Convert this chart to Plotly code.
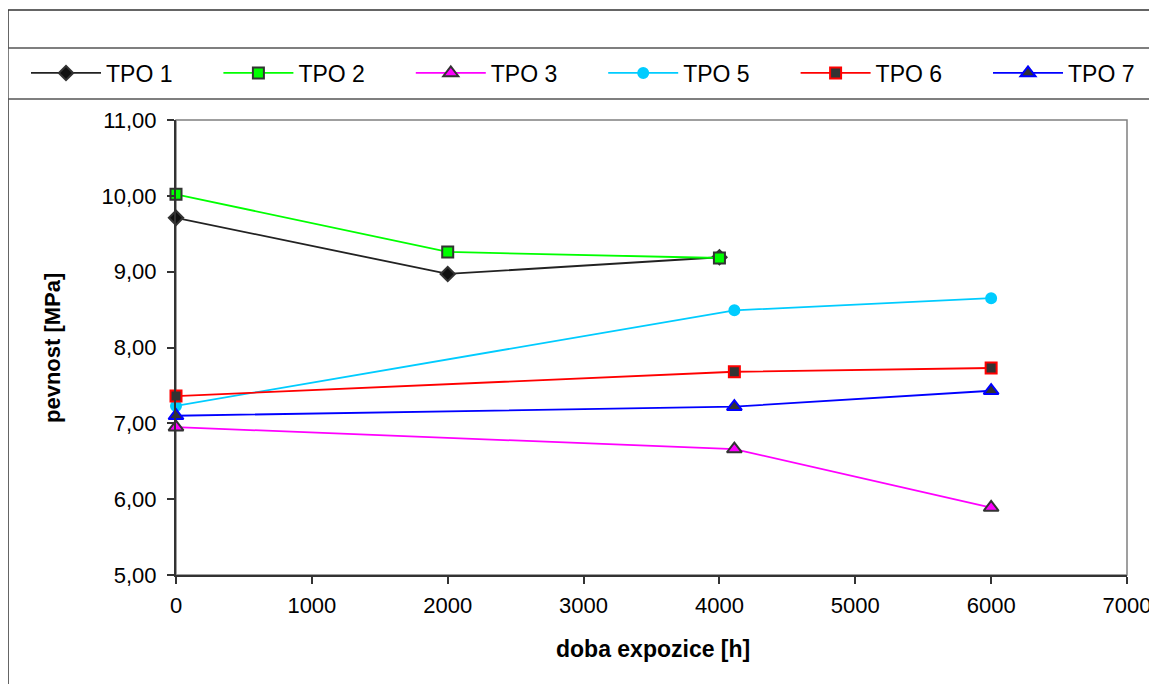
import plotly.graph_objects as go

# ---- data ----
series_names = ["TPO 1", "TPO 2", "TPO 3", "TPO 5", "TPO 6", "TPO 7"]
tpo1_x = [0, 2000, 4000]
tpo1_y = [9.71, 8.97, 9.19]
tpo2_x = [0, 2000, 4000]
tpo2_y = [10.02, 9.26, 9.18]
tpo3_x = [0, 4110, 6000]
tpo3_y = [6.95, 6.66, 5.89]
tpo5_x = [0, 4110, 6000]
tpo5_y = [7.23, 8.49, 8.65]
tpo6_x = [0, 4110, 6000]
tpo6_y = [7.36, 7.68, 7.73]
tpo7_x = [0, 4110, 6000]
tpo7_y = [7.10, 7.22, 7.43]
x_ticks = [0, 1000, 2000, 3000, 4000, 5000, 6000, 7000]
y_ticks = [5, 6, 7, 8, 9, 10, 11]

# ---- layout geometry (page has an 8px body margin) ----
OFF = 8
W, H = 1157 - OFF, 684 - OFF
L, R, T, B = 176 - OFF, 1127 - OFF, 120 - OFF, 575 - OFF


def px(x):
    return (x - OFF - L) / (R - L)


def py(y):
    return (B - (y - OFF)) / (B - T)


FONT = "Liberation Sans, Arial, sans-serif"

styles = [
    dict(line="#222222", sym="diamond", fill="#111111", border="#333333", size=11),
    dict(line="#00FF00", sym="square", fill="#00FF00", border="#333333", size=11),
    dict(line="#FF00FF", sym="triangle-up", fill="#FF00FF", border="#333333", size=13),
    dict(line="#00CCFF", sym="circle", fill="#00CCFF", border="#00CCFF", size=10),
    dict(line="#FF0000", sym="square", fill="#333333", border="#FF0000", size=11),
    dict(line="#0000FF", sym="triangle-up", fill="#333333", border="#0000FF", size=13),
]
xs = [tpo1_x, tpo2_x, tpo3_x, tpo5_x, tpo6_x, tpo7_x]
ys = [tpo1_y, tpo2_y, tpo3_y, tpo5_y, tpo6_y, tpo7_y]

fig = go.Figure()
legend_ids = ["legend"] + ["legend%d" % (i + 1) for i in range(1, len(series_names))]
for name, x, y, s, lid in zip(series_names, xs, ys, styles, legend_ids):
    fig.add_trace(go.Scatter(
        x=x, y=y, name=name, mode="lines+markers",
        line=dict(color=s["line"], width=1.8),
        marker=dict(symbol=s["sym"], size=s["size"], color=s["fill"],
                    line=dict(color=s["border"], width=2)),
        cliponaxis=False, legend=lid,
    ))

shapes = [
    # outer frame
    dict(type="rect", xref="paper", yref="paper", x0=px(8), x1=px(1175),
         y0=py(700), y1=py(10), line=dict(color="#333333", width=1.5), layer="below"),
    # legend box
    dict(type="rect", xref="paper", yref="paper", x0=px(8), x1=px(1152),
         y0=py(99), y1=py(48), line=dict(color="#555555", width=1.5),
         fillcolor="white", layer="below"),
    # plot area top/right border
    dict(type="rect", xref="paper", yref="paper", x0=0, x1=1, y0=0, y1=1,
         line=dict(color="#808080", width=1.5), layer="below"),
]

annotations = [
    dict(text="<b>doba expozice [h]</b>", xref="paper", yref="paper",
         x=px(653), y=py(649), showarrow=False, xanchor="center", yanchor="middle",
         font=dict(family=FONT, size=23, color="black")),
    dict(text="<b>pevnost [MPa]</b>", xref="paper", yref="paper",
         x=px(52), y=py(348), showarrow=False, xanchor="center", yanchor="middle",
         textangle=-90, font=dict(family=FONT, size=22, color="black")),
]

layout_legends = {}
for i, lid in enumerate(legend_ids):
    layout_legends[lid] = dict(
        orientation="h", x=px(26 + i * 192.4), y=py(73),
        xanchor="left", yanchor="middle",
        bgcolor="rgba(0,0,0,0)", borderwidth=0, itemwidth=70,
        font=dict(family=FONT, size=23, color="black"),
        itemclick=False, itemdoubleclick=False,
    )

fig.update_layout(
    width=W, height=H,
    margin=dict(l=L, r=W - R, t=T, b=H - B, autoexpand=False),
    paper_bgcolor="white", plot_bgcolor="white",
    separators=", ",
    font=dict(family=FONT, size=22, color="black"),
    showlegend=True,
    shapes=shapes,
    annotations=annotations,
    xaxis=dict(range=[0, 7000], tickvals=x_ticks, tickformat="d",
               showgrid=False, zeroline=False, showline=True, linecolor="#333333",
               linewidth=2, ticks="outside", ticklen=7, tickcolor="#333333",
               tickwidth=1.5, tickfont=dict(family=FONT, size=22, color="black"),
               ticklabelstandoff=3, fixedrange=True),
    yaxis=dict(range=[5, 11], tickvals=y_ticks, tickformat=".2f",
               showgrid=False, zeroline=False, showline=True, linecolor="#333333",
               linewidth=2, ticks="outside", ticklen=7, tickcolor="#333333",
               tickwidth=1.5, tickfont=dict(family=FONT, size=22, color="black"),
               ticklabelstandoff=6, fixedrange=True),
    **layout_legends,
)

fig.write_html("out.html", config={"displayModeBar": False})
